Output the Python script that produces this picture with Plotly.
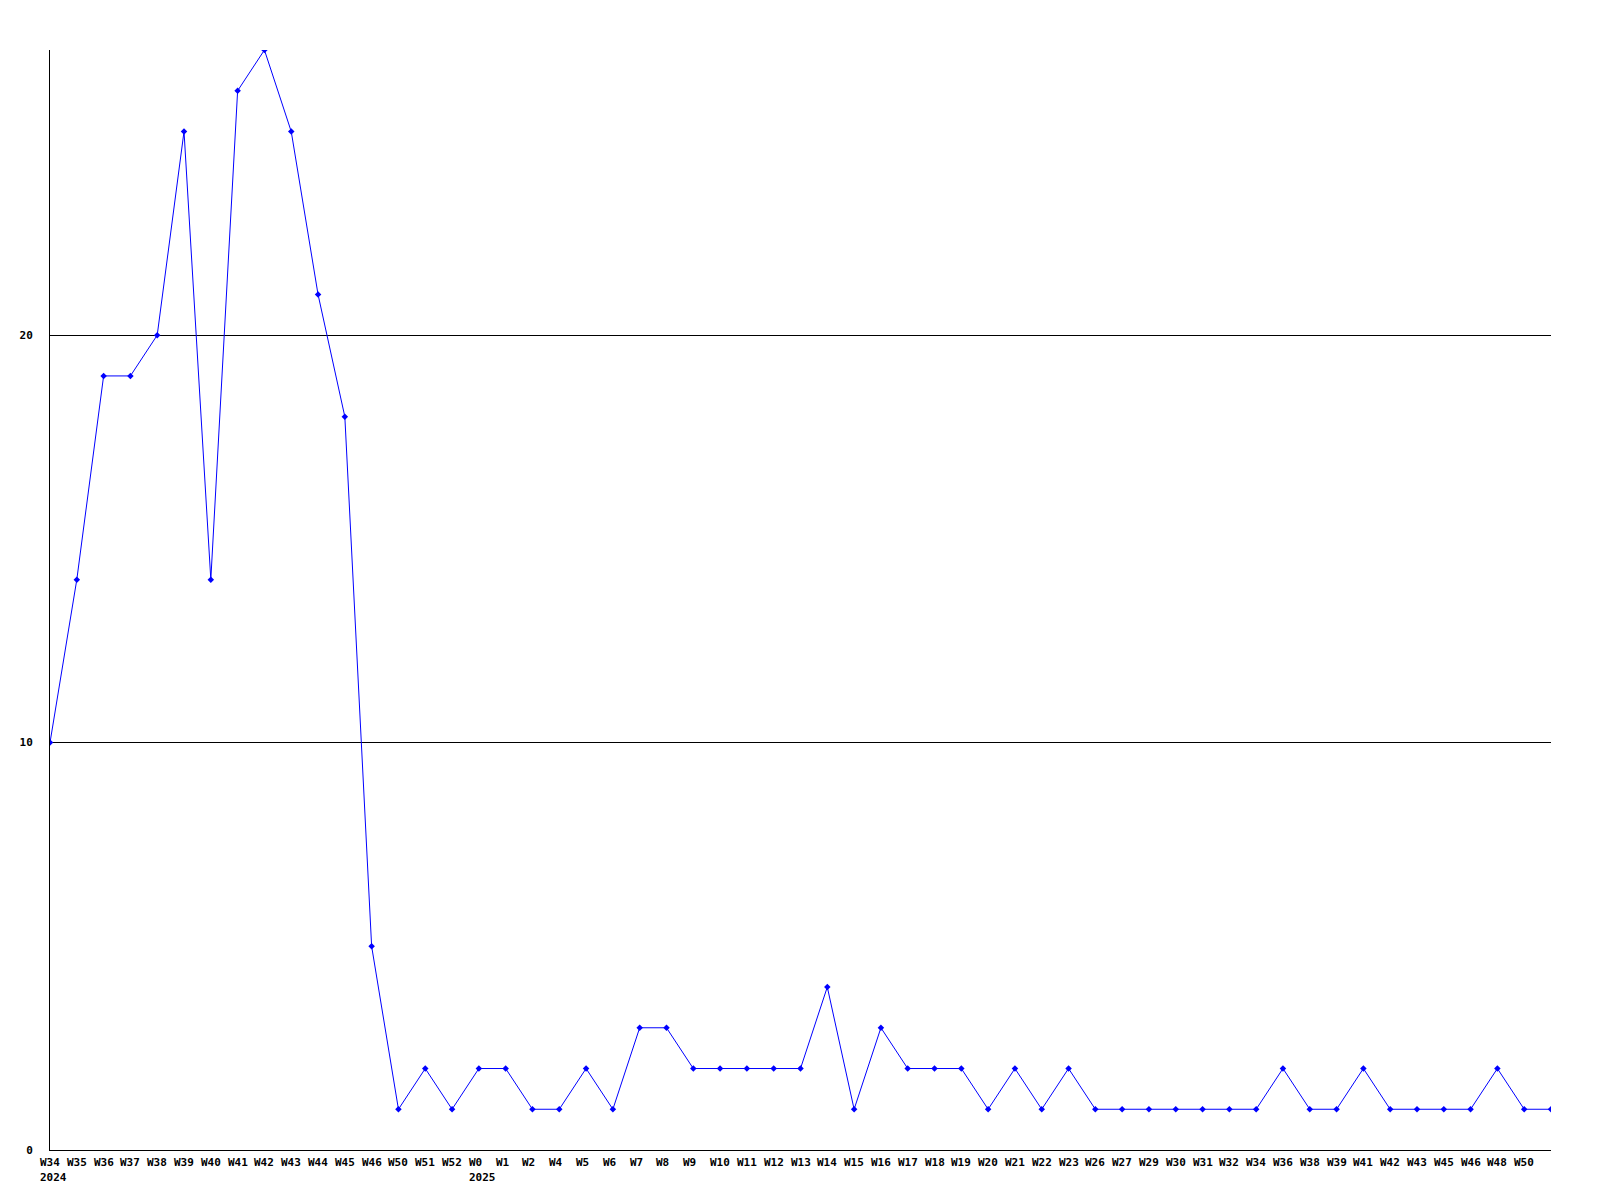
import plotly.graph_objects as go

# weekly counts, 2024-W34 .. 2025; last point has no visible label
week_labels = [
    "W34", "W35", "W36", "W37", "W38", "W39", "W40", "W41", "W42", "W43",
    "W44", "W45", "W46", "W50", "W51", "W52",
    "W0", "W1", "W2", "W4", "W5", "W6", "W7", "W8", "W9", "W10",
    "W11", "W12", "W13", "W14", "W15", "W16", "W17", "W18", "W19", "W20",
    "W21", "W22", "W23", "W26", "W27", "W29", "W30", "W31", "W32", "W34",
    "W36", "W38", "W39", "W41", "W42", "W43", "W45", "W46", "W48", "W50",
    "",
]
counts = [
    10, 14, 19, 19, 20, 25, 14, 26, 27, 25,
    21, 18, 5, 1, 2, 1,
    2, 2, 1, 1, 2, 1, 3, 3, 2, 2,
    2, 2, 2, 4, 1, 3, 2, 2, 2, 1,
    2, 1, 2, 1, 1, 1, 1, 1, 1, 1,
    2, 1, 1, 2, 1, 1, 1, 1, 2, 1,
    1,
]
year_labels = {0: "2024", 16: "2025"}
y_ticks = [0, 10, 20]

BLUE = "#0000ff"
FONT = dict(family="DejaVu Sans Mono", size=11, color="black", weight="bold")

x_idx = list(range(len(counts)))

fig = go.Figure()
fig.add_trace(go.Scatter(
    x=x_idx,
    y=counts,
    mode="lines+markers",
    line=dict(color=BLUE, width=1),
    marker=dict(symbol="diamond", size=5, color=BLUE),
    hoverinfo="skip",
))

# week labels sit left-aligned just before each point, years underneath
annotations = []
for i, lab in enumerate(week_labels):
    if lab:
        annotations.append(dict(
            x=i, y=0, xref="x", yref="paper", text=lab, showarrow=False,
            xanchor="left", yanchor="middle", yshift=-12, xshift=-12, font=FONT,
        ))
for i, yr in year_labels.items():
    annotations.append(dict(
        x=i, y=0, xref="x", yref="paper", text=yr, showarrow=False,
        xanchor="left", yanchor="middle", yshift=-27, xshift=-12, font=FONT,
    ))

fig.update_layout(
    width=1600,
    height=1200,
    margin=dict(l=50, r=49, t=50, b=50),
    plot_bgcolor="white",
    paper_bgcolor="white",
    showlegend=False,
    annotations=annotations,
    xaxis=dict(
        range=[0, len(counts) - 1],
        showgrid=False,
        zeroline=False,
        showticklabels=False,
        showline=True,
        linecolor="black",
        linewidth=1,
    ),
    yaxis=dict(
        range=[0, 27],
        tickvals=y_ticks,
        ticktext=[str(v) for v in y_ticks],
        showgrid=True,
        gridcolor="black",
        gridwidth=1,
        zeroline=False,
        showline=True,
        linecolor="black",
        linewidth=1,
        ticklabelstandoff=14,
        tickfont=FONT,
    ),
)

# the page's default body margin would shift the fixed-size figure
fig.write_html(
    "out.html",
    config={"displayModeBar": False},
    post_script="document.body.style.margin='0';",
)
